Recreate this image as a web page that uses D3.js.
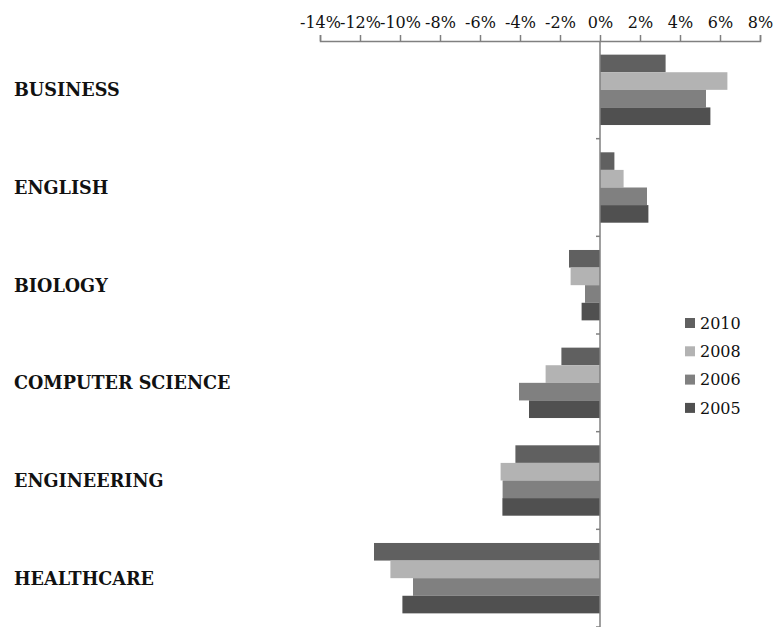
<!DOCTYPE html>
<html>
<head>
<meta charset="utf-8">
<script src="https://cdn.jsdelivr.net/npm/d3@7"></script>
<style>
html,body{margin:0;padding:0;background:#fff;}
svg{display:block;}
</style>
</head>
<body>
<svg id="chart" width="774" height="627"></svg>
<script>
const categories = ["BUSINESS","ENGLISH","BIOLOGY","COMPUTER SCIENCE","ENGINEERING","HEALTHCARE"];
const years = ["2010","2008","2006","2005"];
const values2010 = [3.28, 0.72, -1.55, -1.93, -4.23, -11.3];
const values2008 = [6.37, 1.18, -1.47, -2.72, -4.97, -10.48];
const values2006 = [5.30, 2.35, -0.75, -4.05, -4.87, -9.35];
const values2005 = [5.52, 2.42, -0.92, -3.55, -4.88, -9.88];
const tickValues = [-14,-12,-10,-8,-6,-4,-2,0,2,4,6,8];
const colors = ["#606060","#b3b3b3","#808080","#505050"];

const seriesValues = [values2010, values2008, values2006, values2005];
const data = [];
categories.forEach((c,i)=>{
  years.forEach((y,j)=>{ data.push({cat:c, year:y, value:seriesValues[j][i], color:colors[j]}); });
});

const svg = d3.select("#chart");
const x = d3.scaleLinear().domain([-14,8]).range([320,760]);
const y0 = d3.scaleBand().domain(categories).range([41,627]).paddingInner(0).paddingOuter(0);
const y1 = d3.scaleBand().domain(years).range([0,y0.bandwidth()]).paddingInner(0).paddingOuter(0.775);

// bars
svg.append("g").selectAll("rect").data(data).join("rect")
  .attr("x", d=>x(Math.min(0,d.value)))
  .attr("width", d=>Math.abs(x(d.value)-x(0)))
  .attr("y", d=>y0(d.cat)+y1(d.year))
  .attr("height", y1.bandwidth())
  .attr("fill", d=>d.color);

// top axis
const xAxis = d3.axisTop(x).tickValues(tickValues).tickSize(6).tickPadding(7)
  .tickFormat(d=>d+"%");
const gx = svg.append("g").attr("transform","translate(0,41)").call(xAxis);
gx.select(".domain").attr("stroke","#808080").attr("stroke-width",1.5);
gx.selectAll(".tick line").attr("stroke","#808080").attr("stroke-width",1.5);
gx.selectAll(".tick text").attr("fill","#111").style("font-family","'DejaVu Serif', serif").style("font-size","16px");

// vertical axis at zero
const yTicks = categories.map(c=>y0(c)).concat([y0.range()[1]]);
const gy = svg.append("g");
gy.append("line").attr("x1",x(0)).attr("x2",x(0)).attr("y1",41).attr("y2",627)
  .attr("stroke","#808080").attr("stroke-width",1.5);
gy.selectAll("line.t").data(yTicks.slice(1)).join("line").attr("class","t")
  .attr("x1",x(0)-4).attr("x2",x(0)).attr("y1",d=>d).attr("y2",d=>d)
  .attr("stroke","#808080").attr("stroke-width",1.5);

// category labels
svg.append("g").selectAll("text").data(categories).join("text")
  .attr("x",14).attr("y",d=>y0(d)+y0.bandwidth()/2)
  .attr("dy","0.36em")
  .style("font-family","'DejaVu Serif', serif").style("font-weight","bold").style("font-size","17.6px")
  .attr("fill","#111")
  .text(d=>d);

// legend
const lg = svg.append("g").attr("transform","translate(685,323)");
const items = lg.selectAll("g").data(years).join("g").attr("transform",(d,i)=>`translate(0,${i*28.3})`);
items.append("rect").attr("x",0).attr("y",-5).attr("width",10).attr("height",10).attr("fill",(d,i)=>colors[i]);
items.append("text").attr("x",15).attr("y",0).attr("dy","0.36em")
  .style("font-family","'DejaVu Serif', serif").style("font-size","16px").attr("fill","#111")
  .text(d=>d);
</script>
</body>
</html>
